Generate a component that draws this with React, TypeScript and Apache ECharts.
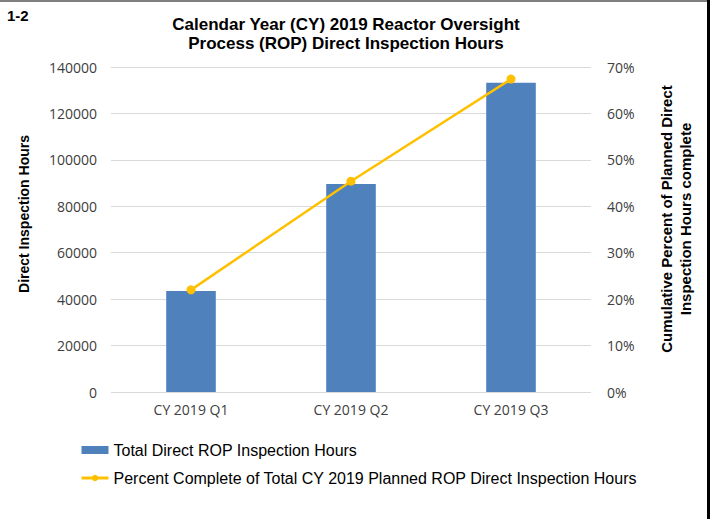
import React, { useEffect, useRef } from "react";
import * as echarts from "echarts";

const categories = ["CY 2019 Q1", "CY 2019 Q2", "CY 2019 Q3"];
const inspectionHours = [43500, 89600, 133200];
const percentComplete = [22.0, 45.4, 67.4];
const barName = "Total Direct ROP Inspection Hours";
const lineName = "Percent Complete of Total CY 2019 Planned ROP Direct Inspection Hours";
const titleLines = ["Calendar Year (CY) 2019 Reactor Oversight", "Process (ROP) Direct Inspection Hours"];
const figureLabel = "1-2";
const leftAxisName = "Direct Inspection Hours";
const rightAxisName = "Cumulative Percent of Planned Direct\nInspection Hours complete";

export default function App() {
  const ref = useRef<HTMLDivElement>(null);
  useEffect(() => {
    if (!ref.current) return;
    const chart = echarts.init(ref.current, null, { renderer: "svg" });
    const tickFont = { fontFamily: "Open Sans", fontSize: 14, color: "#404040" };
    chart.setOption({
      animation: false,
      backgroundColor: "#ffffff",
      title: {
        text: titleLines.join("\n"),
        left: 341,
        top: 10,
        textAlign: "center",
        textStyle: {
          fontFamily: "Liberation Sans",
          fontWeight: "bold",
          fontSize: 17,
          lineHeight: 19,
          color: "#000",
        },
      },
      graphic: [
        {
          type: "text",
          left: 7,
          top: 8,
          style: { text: figureLabel, font: "bold 15px 'Liberation Sans'", fill: "#000" },
        },
        {
          type: "text",
          x: 24,
          y: 214,
          rotation: Math.PI / 2,
          style: {
            text: leftAxisName,
            font: "bold 14px 'Liberation Sans'",
            fill: "#000",
            align: "center",
            verticalAlign: "middle",
          },
        },
        {
          type: "text",
          x: 676,
          y: 219,
          rotation: Math.PI / 2,
          style: {
            text: rightAxisName,
            font: "bold 15px 'Liberation Sans'",
            lineHeight: 19,
            fill: "#000",
            align: "center",
            verticalAlign: "middle",
          },
        },
        {
          type: "rect",
          shape: { x: 0, y: 0, width: 709, height: 2 },
          style: { fill: "#7f7f7f" },
        },
        {
          type: "rect",
          shape: { x: 707, y: 0, width: 3, height: 519 },
          style: { fill: "#000" },
        },
      ],
      grid: { left: 111, right: 122, top: 67, bottom: 127 },
      legend: {
        orient: "vertical",
        left: 75,
        top: 437,
        itemGap: 12,
        itemWidth: 27,
        itemHeight: 8,
        textStyle: { fontFamily: "Liberation Sans", fontSize: 16, color: "#000" },
        data: [
          { name: barName, icon: "rect" },
          { name: lineName, itemStyle: { color: "#ffc000" }, lineStyle: { width: 3, color: "#ffc000" } },
        ],
      },
      xAxis: {
        type: "category",
        data: categories,
        axisLine: { show: false },
        axisTick: { show: false },
        axisLabel: { ...tickFont, fontSize: 14, margin: 10 },
      },
      yAxis: [
        {
          type: "value",
          min: 0,
          max: 140000,
          interval: 20000,
          axisLine: { show: false },
          axisTick: { show: false },
          axisLabel: { ...tickFont, margin: 14, formatter: (v: number) => String(v) },
          splitLine: { lineStyle: { color: "#d9d9d9", width: 1 } },
        },
        {
          type: "value",
          min: 0,
          max: 70,
          interval: 10,
          position: "right",
          axisLine: { show: false },
          axisTick: { show: false },
          axisLabel: { ...tickFont, margin: 16, formatter: "{value}%" },
          splitLine: { show: false },
        },
      ],
      series: [
        {
          name: barName,
          type: "bar",
          data: inspectionHours,
          barWidth: "31%",
          itemStyle: { color: "#4f81bd" },
        },
        {
          name: lineName,
          type: "line",
          yAxisIndex: 1,
          data: percentComplete,
          symbol: "circle",
          symbolSize: 9,
          lineStyle: { color: "#ffc000", width: 2.5 },
          itemStyle: { color: "#ffc000" },
        },
      ],
    });
    return () => chart.dispose();
  }, []);
  return <div ref={ref} style={{ position: "fixed", left: 0, top: 0, width: 713, height: 519 }} />;
}
